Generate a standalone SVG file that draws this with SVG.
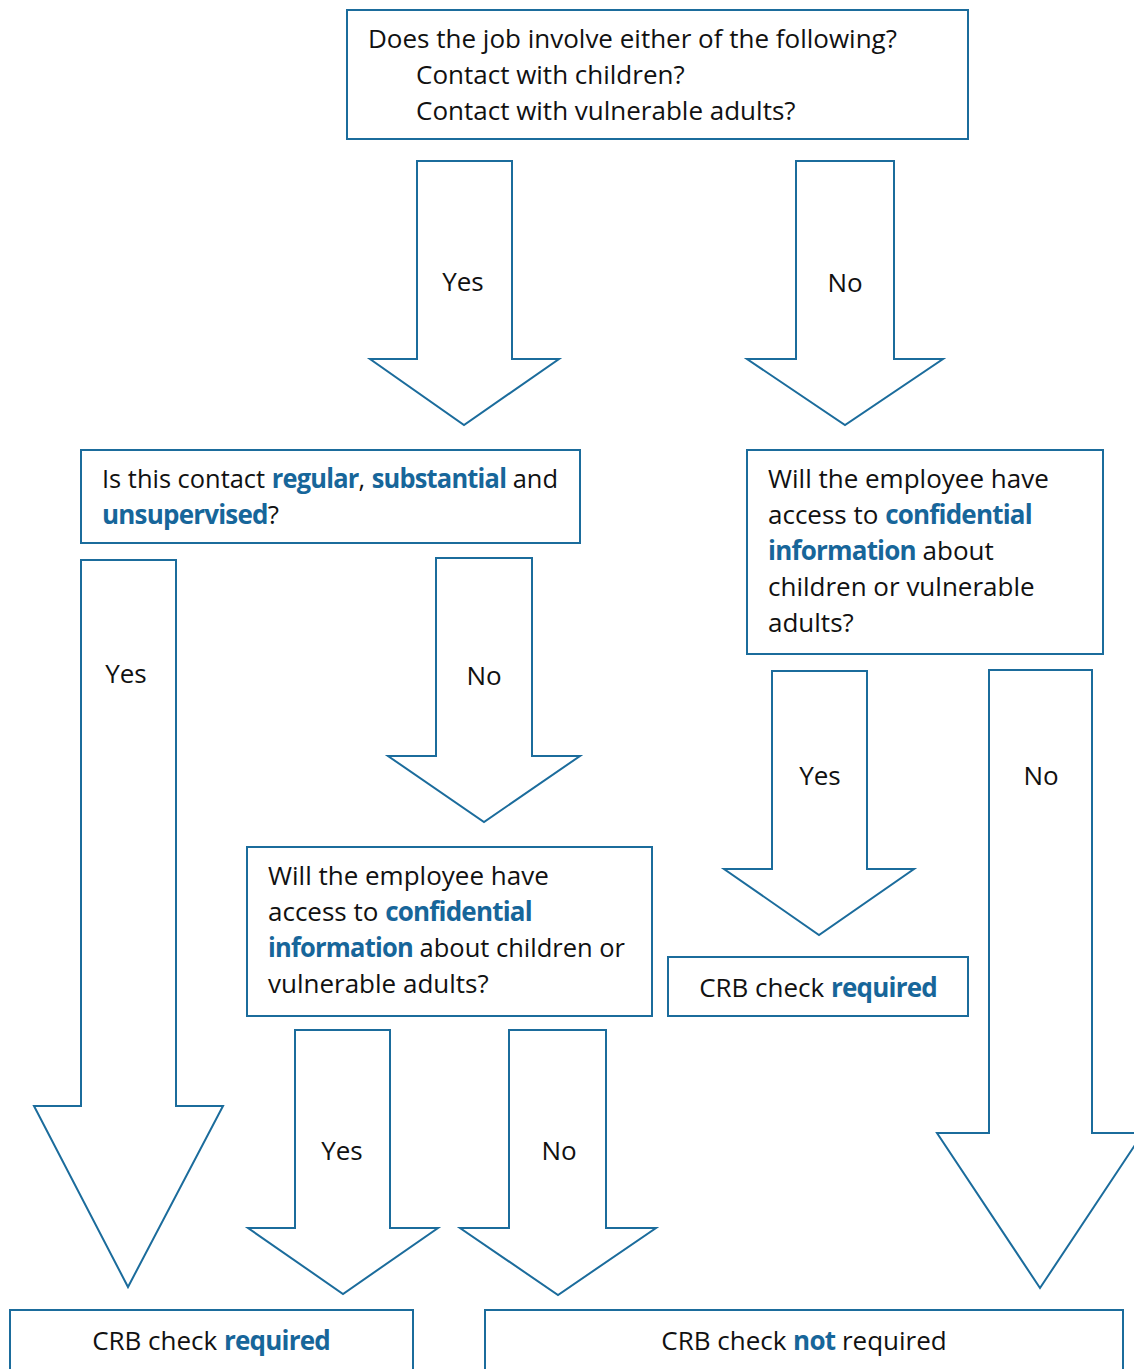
<svg xmlns="http://www.w3.org/2000/svg" width="1134" height="1369" viewBox="0 0 1134 1369">
<style>
.box{fill:#fff;stroke:#1b6c9c;stroke-width:2}
.arr{fill:#fff;stroke:#1b6c9c;stroke-width:2;stroke-linejoin:miter}
text{font-family:"Open Sans","Noto Sans","Liberation Sans",sans-serif;font-size:26px;fill:#111}
.b{font-weight:bold;fill:#17669a;letter-spacing:-0.8px}
.c{text-anchor:middle}
</style>
<rect width="1134" height="1369" fill="#fff"/>
<g id="connectors">
<polygon class="arr" points="417,161 512,161 512,359 559,359 464,425 370,359 417,359"/>
<text class="c" x="463" y="291">Yes</text>
<polygon class="arr" points="796,161 894,161 894,359 943,359 845,425 747,359 796,359"/>
<text class="c" x="845" y="292">No</text>
<polygon class="arr" points="81,560 176,560 176,1106 223,1106 128,1287 34,1106 81,1106"/>
<text class="c" x="126" y="683">Yes</text>
<polygon class="arr" points="436,558 532,558 532,756 580,756 484,822 388,756 436,756"/>
<text class="c" x="484" y="685">No</text>
<polygon class="arr" points="772,671 867,671 867,869 914,869 819,935 724,869 772,869"/>
<text class="c" x="820" y="785">Yes</text>
<polygon class="arr" points="989,670 1092,670 1092,1133 1143,1133 1040,1288 937,1133 989,1133"/>
<text class="c" x="1041" y="785">No</text>
<polygon class="arr" points="295,1030 390,1030 390,1228 438,1228 343,1294 248,1228 295,1228"/>
<text class="c" x="342" y="1160">Yes</text>
<polygon class="arr" points="509,1030 606,1030 606,1228 656,1228 558,1295 460,1228 509,1228"/>
<text class="c" x="559" y="1160">No</text>
</g>
<g id="q1">
<rect class="box" x="347" y="10" width="621" height="129"/>
<text x="368" y="48">Does the job involve either of the following?</text>
<text x="416" y="84">Contact with children?</text>
<text x="416" y="120">Contact with vulnerable adults?</text>
</g>
<g id="q2">
<rect class="box" x="81" y="450" width="499" height="93"/>
<text x="102" y="488" textLength="456" lengthAdjust="spacingAndGlyphs">Is this contact <tspan class="b">regular</tspan>, <tspan class="b">substantial</tspan> and</text>
<text x="102" y="524"><tspan class="b">unsupervised</tspan>?</text>
</g>
<g id="q3">
<rect class="box" x="747" y="450" width="356" height="204"/>
<text x="768" y="488">Will the employee have</text>
<text x="768" y="524">access to <tspan class="b">confidential</tspan></text>
<text x="768" y="560"><tspan class="b">information</tspan> about</text>
<text x="768" y="596">children or vulnerable</text>
<text x="768" y="632">adults?</text>
</g>
<g id="q4">
<rect class="box" x="247" y="847" width="405" height="169"/>
<text x="268" y="885">Will the employee have</text>
<text x="268" y="921">access to <tspan class="b">confidential</tspan></text>
<text x="268" y="957" textLength="357" lengthAdjust="spacingAndGlyphs"><tspan class="b">information</tspan> about children or</text>
<text x="268" y="993">vulnerable adults?</text>
</g>
<g id="r1">
<rect class="box" x="668" y="957" width="300" height="59"/>
<text class="c" x="818" y="997">CRB check <tspan class="b">required</tspan></text>
</g>
<g id="r2">
<rect class="box" x="10" y="1310" width="403" height="70"/>
<text class="c" x="211" y="1350">CRB check <tspan class="b">required</tspan></text>
</g>
<g id="r3">
<rect class="box" x="485" y="1310" width="638" height="70"/>
<text class="c" x="804" y="1350">CRB check <tspan class="b">not</tspan> required</text>
</g>
</svg>
